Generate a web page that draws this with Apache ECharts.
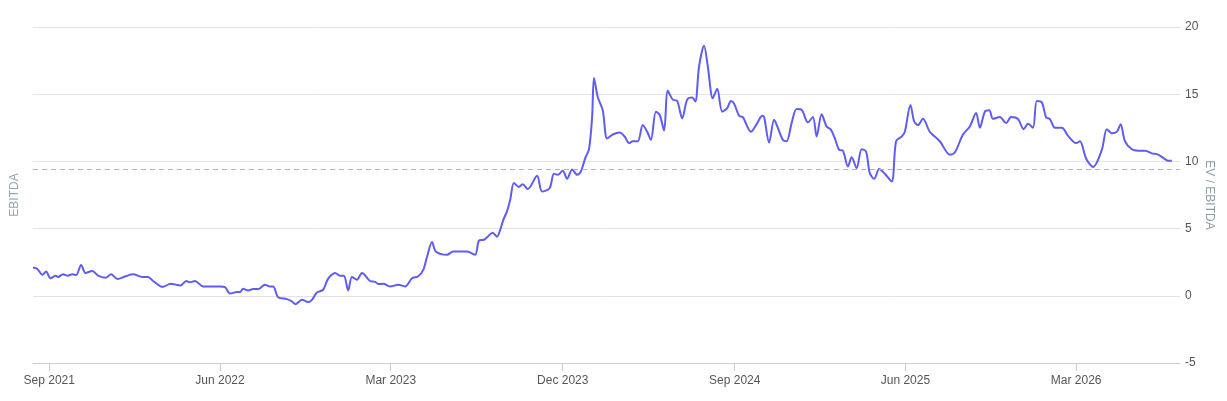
<!DOCTYPE html>
<html>
<head>
<meta charset="utf-8">
<script src="https://cdn.jsdelivr.net/npm/echarts@6/dist/echarts.min.js"></script>
<style>
  html, body { margin: 0; padding: 0; background: #fff; }
  #chart { width: 1227px; height: 401px; }
</style>
</head>
<body>
<div id="chart"></div>
<script>
var dates = [
    '2021-08-06','2021-08-13','2021-08-21','2021-08-27','2021-09-03','2021-09-11','2021-09-15','2021-09-23','2021-09-30','2021-10-08',
    '2021-10-14','2021-10-22','2021-10-29','2021-11-09','2021-11-18','2021-11-30','2021-12-09','2021-12-19','2022-01-01','2022-01-13',
    '2022-01-28','2022-02-06','2022-02-14','2022-02-26','2022-03-02','2022-03-14','2022-03-30','2022-04-08','2022-04-14','2022-04-22',
    '2022-05-05','2022-06-01','2022-06-09','2022-06-17','2022-06-28','2022-07-03','2022-07-08','2022-07-16','2022-07-24','2022-08-01',
    '2022-08-12','2022-08-20','2022-08-25','2022-09-02','2022-09-16','2022-09-24','2022-09-30','2022-10-10','2022-10-20','2022-10-26',
    '2022-11-03','2022-11-13','2022-11-19','2022-11-24','2022-12-02','2022-12-10','2022-12-16','2022-12-23','2022-12-29','2023-01-06',
    '2023-01-14','2023-01-27','2023-02-04','2023-02-10','2023-02-17','2023-02-28','2023-03-13','2023-03-24','2023-04-04','2023-04-14',
    '2023-04-22','2023-04-28','2023-05-06','2023-05-12','2023-05-30','2023-06-09','2023-07-01','2023-07-14','2023-07-20','2023-07-28',
    '2023-08-03','2023-08-11','2023-08-18','2023-08-23','2023-08-28','2023-09-03','2023-09-08','2023-09-14','2023-09-22','2023-09-28',
    '2023-10-06','2023-10-21','2023-10-29','2023-11-10','2023-11-17','2023-11-23','2023-12-01','2023-12-08','2023-12-16','2023-12-24',
    '2023-12-30','2024-01-06','2024-01-12','2024-01-17','2024-01-20','2024-01-26','2024-02-03','2024-02-10','2024-02-19','2024-03-01',
    '2024-03-09','2024-03-16','2024-03-22','2024-03-30','2024-04-07','2024-04-14','2024-04-20','2024-04-28','2024-05-04','2024-05-11',
    '2024-05-17','2024-05-25','2024-06-01','2024-06-09','2024-06-17','2024-06-25','2024-06-30','2024-07-06','2024-07-14','2024-07-20',
    '2024-07-28','2024-08-04','2024-08-12','2024-08-20','2024-08-26','2024-08-31','2024-09-08','2024-09-14','2024-09-27','2024-10-07',
    '2024-10-15','2024-10-18','2024-10-26','2024-11-03','2024-11-09','2024-11-17','2024-11-23','2024-12-01','2024-12-09','2024-12-17',
    '2024-12-27','2025-01-04','2025-01-10','2025-01-18','2025-01-26','2025-02-02','2025-02-08','2025-02-15','2025-02-21','2025-03-01',
    '2025-03-07','2025-03-15','2025-03-23','2025-03-30','2025-04-05','2025-04-12','2025-04-20','2025-04-29','2025-05-10','2025-05-17',
    '2025-05-26','2025-05-31','2025-06-09','2025-06-15','2025-06-21','2025-06-29','2025-07-10','2025-07-26','2025-08-11','2025-08-19',
    '2025-09-01','2025-09-12','2025-09-22','2025-09-28','2025-10-06','2025-10-13','2025-10-19','2025-10-30','2025-11-09','2025-11-17',
    '2025-11-28','2025-12-07','2025-12-14','2025-12-22','2025-12-28','2026-01-05','2026-01-12','2026-01-18','2026-01-26','2026-02-06',
    '2026-02-16','2026-03-01','2026-03-07','2026-03-17','2026-03-28','2026-04-11','2026-04-19','2026-04-27','2026-05-05','2026-05-11',
    '2026-05-18','2026-05-29','2026-06-08','2026-06-19','2026-06-30','2026-07-10','2026-07-21','2026-07-26','2026-08-01'
];

var evEbitda = [
    2.1, 2.0, 1.56, 1.8, 1.3, 1.5, 1.4, 1.6, 1.5, 1.6,
    1.55, 2.3, 1.7, 1.85, 1.5, 1.35, 1.6, 1.25, 1.45, 1.6,
    1.4, 1.4, 1.1, 0.7, 0.67, 0.9, 0.77, 1.1, 1.0, 1.1,
    0.7, 0.7, 0.65, 0.17, 0.28, 0.28, 0.52, 0.4, 0.5, 0.5,
    0.82, 0.7, 0.7, -0.1, -0.25, -0.42, -0.62, -0.3, -0.47, -0.3,
    0.25, 0.45, 1.1, 1.45, 1.7, 1.5, 1.5, 0.4, 1.4, 1.2,
    1.7, 1.1, 1.04, 0.87, 0.9, 0.7, 0.82, 0.7, 1.3, 1.45,
    1.93, 2.9, 4.0, 3.3, 3.05, 3.3, 3.3, 3.05, 4.1, 4.17,
    4.4, 4.7, 4.4, 4.9, 5.65, 6.3, 7.14, 8.4, 8.1, 8.3,
    7.94, 8.93, 7.76, 8.0, 9.08, 9.0, 9.3, 8.7, 9.4, 9.0,
    9.25, 10.25, 10.9, 13.3, 16.2, 14.8, 13.8, 11.7, 12.0, 12.15,
    11.85, 11.36, 11.5, 11.5, 12.7, 12.2, 11.6, 13.7, 13.47, 12.3,
    15.25, 14.6, 14.5, 13.2, 14.6, 14.75, 14.45, 17.06, 18.6, 17.06,
    14.7, 15.4, 13.7, 13.96, 14.5, 14.3, 13.4, 13.3, 12.2, 12.85,
    13.4, 13.3, 11.4, 13.1, 12.5, 11.6, 11.5, 12.85, 13.9, 13.84,
    12.9, 13.3, 11.85, 13.5, 12.6, 12.35, 11.73, 10.86, 10.8, 9.62,
    10.3, 9.5, 10.9, 10.74, 9.13, 8.7, 9.43, 9.08, 8.5, 11.5,
    11.85, 12.2, 14.2, 12.97, 12.7, 13.17, 12.2, 11.5, 10.5, 10.66,
    12.0, 12.6, 13.6, 12.5, 13.7, 13.8, 13.17, 13.3, 12.85, 13.3,
    13.15, 12.4, 12.8, 12.5, 14.5, 14.4, 13.27, 13.15, 12.5, 12.5,
    11.9, 11.36, 11.5, 10.2, 9.58, 10.86, 12.4, 12.1, 12.2, 12.77,
    11.5, 10.9, 10.8, 10.8, 10.6, 10.5, 10.17, 10.05, 10.05
];

var tickDates = ['2021-09-01', '2022-06-01', '2023-03-01', '2023-12-01', '2024-09-01', '2025-06-01', '2026-03-01'];
var monthNames = ['Jan','Feb','Mar','Apr','May','Jun','Jul','Aug','Sep','Oct','Nov','Dec'];
var axisEndDate = '2026-08-14';
var averageValue = 9.4;

(function () {
    var myChart = echarts.init(document.getElementById('chart'));

    function toTime(d) {
        return Date.UTC(+d.slice(0, 4), +d.slice(5, 7) - 1, +d.slice(8, 10));
    }

    var seriesData = dates.map(function (d, i) {
        return [toTime(d), evEbitda[i]];
    });
    var ticks = tickDates.map(toTime);
    var fontFamily = '"Liberation Sans", Arial, sans-serif';

    var option = {
        animation: false,
        grid: {
            left: 33,
            right: 47,
            top: 27,
            bottom: 38,
            outerBoundsMode: 'none'
        },
        xAxis: {
            type: 'value',
            min: toTime(dates[0]),
            max: toTime(axisEndDate),
            axisLine: { onZero: false, lineStyle: { color: '#cccccc' } },
            axisTick: {
                customValues: ticks,
                length: 8,
                lineStyle: { color: '#cccccc' }
            },
            axisLabel: {
                customValues: ticks,
                color: '#555555',
                fontSize: 12,
                fontFamily: fontFamily,
                margin: 12,
                formatter: function (val) {
                    var d = new Date(val);
                    return monthNames[d.getUTCMonth()] + ' ' + d.getUTCFullYear();
                }
            },
            splitLine: { show: false }
        },
        yAxis: [
            {
                type: 'value',
                position: 'right',
                min: -5,
                max: 20,
                interval: 5,
                name: 'EV / EBITDA',
                nameLocation: 'middle',
                nameRotate: -90,
                nameGap: 23,
                nameMoveOverlap: false,
                nameTextStyle: { color: '#8d9ca3', fontSize: 12, fontFamily: fontFamily },
                axisLine: { show: false },
                axisTick: { show: false },
                axisLabel: { color: '#555555', fontSize: 12, fontFamily: fontFamily, margin: 5 },
                splitLine: { lineStyle: { color: '#e3e3e3' } }
            },
            {
                type: 'value',
                position: 'left',
                min: -5,
                max: 20,
                interval: 5,
                name: 'EBITDA',
                nameLocation: 'middle',
                nameGap: 12,
                nameMoveOverlap: false,
                nameTextStyle: { color: '#9aa4b8', fontSize: 12, fontFamily: fontFamily },
                axisLine: { show: false },
                axisTick: { show: false },
                axisLabel: { show: false },
                splitLine: { show: false }
            }
        ],
        series: [
            {
                name: 'EV / EBITDA',
                type: 'line',
                yAxisIndex: 0,
                data: seriesData,
                smooth: 0.3,
                showSymbol: false,
                lineStyle: { color: '#5f5cf0', width: 2 },
                itemStyle: { color: '#5f5cf0' },
                markLine: {
                    silent: true,
                    symbol: 'none',
                    label: { show: false },
                    lineStyle: { color: '#b5b5b5', type: [5, 4], width: 1 },
                    data: [{ yAxis: averageValue }]
                }
            }
        ]
    };

    myChart.setOption(option);
})();
</script>
</body>
</html>
